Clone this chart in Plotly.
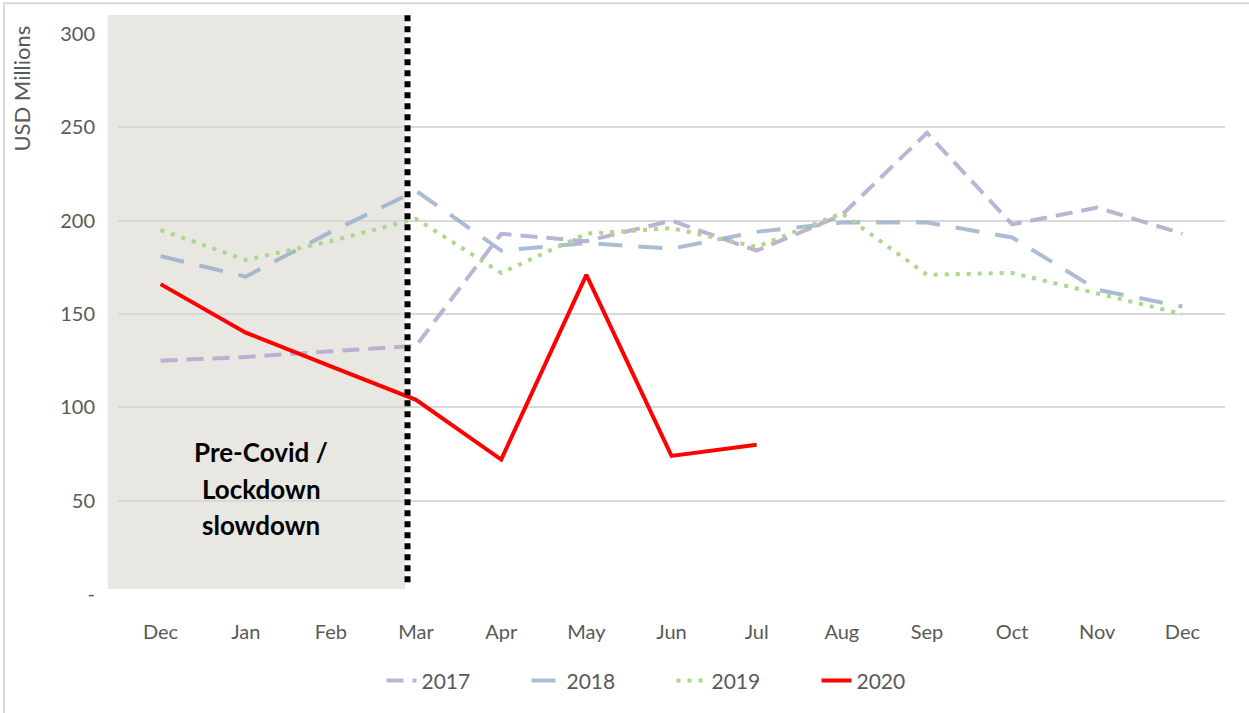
import plotly.graph_objects as go

months = ["Dec", "Jan", "Feb", "Mar", "Apr", "May", "Jun", "Jul", "Aug", "Sep", "Oct", "Nov", "Dec"]
s2017 = [125, 127, 130, 133, 193, 189, 200, 184, 203, 247, 198, 207, 193]
s2018 = [181, 170, 194, 216, 184, 188, 185, 194, 199, 199, 191, 163, 154]
s2019 = [195, 179, 189, 201, 172, 193, 196, 186, 204, 171, 172, 161, 150]
s2020 = [166, 140, 122, 104, 72, 171, 74, 80]
ytickvals = [0, 50, 100, 150, 200, 250, 300]
yticktext = ["-", "50", "100", "150", "200", "250", "300"]

x_idx = list(range(len(months)))
FONT = "Lato"
GRAY = "#595959"

fig = go.Figure()
fig.add_trace(go.Scatter(x=x_idx, y=s2017, name="2017", mode="lines",
                         line=dict(color="rgba(180,165,205,0.85)", width=4, dash="17px,9px")))
fig.add_trace(go.Scatter(x=x_idx, y=s2018, name="2018", mode="lines",
                         line=dict(color="rgba(150,172,200,0.8)", width=4, dash="24px,16px")))
fig.add_trace(go.Scatter(x=x_idx, y=s2019, name="2019", mode="lines",
                         line=dict(color="#A9D98A", width=4, dash="4px,7px")))
fig.add_trace(go.Scatter(x=x_idx[:len(s2020)], y=s2020, name="2020", mode="lines",
                         line=dict(color="#FF0000", width=4)))

n = len(months)
def px_(v):
    return (v + 0.5) / n

cut = 2.9
shapes = [
    # outer frame
    dict(type="rect", xref="paper", yref="paper", x0=-0.1030, x1=1.2, y0=-0.5, y1=1.0551,
         line=dict(color="#D9D9D9", width=2), fillcolor="rgba(0,0,0,0)", layer="below"),
    # shaded region
    dict(type="rect", xref="paper", yref="paper", x0=px_(-0.62), x1=px_(cut - 0.03), y0=0.009, y1=1.034,
         line=dict(width=0), fillcolor="#E8E7E2", layer="below"),
    # dotted divider
    dict(type="line", xref="paper", yref="paper", x0=px_(cut), x1=px_(cut), y0=0.021, y1=1.034,
         line=dict(color="black", width=6, dash="6px,5px"), layer="above"),
]

annotations = [
    dict(x=-0.087, y=1.018, xref="paper", yref="paper", text="USD Millions", textangle=-90,
         showarrow=False, xanchor="center", yanchor="top", font=dict(family=FONT, size=22, color=GRAY)),
]
for txt, yv in [("Pre-Covid /", 76), ("Lockdown", 56.5), ("slowdown", 37)]:
    annotations.append(dict(x=1.18, y=yv, xref="x", yref="y", text="<b>" + txt + "</b>",
                            showarrow=False, font=dict(family=FONT, size=26, color="black")))

fig.update_layout(
    width=1249, height=713,
    margin=dict(l=118, r=24, t=34, b=116),
    paper_bgcolor="white", plot_bgcolor="rgba(0,0,0,0)",
    font=dict(family=FONT, size=20, color=GRAY),
    shapes=shapes, annotations=annotations,
    showlegend=True,
    legend=dict(orientation="h", x=0.50, xanchor="center", y=-0.155, yanchor="middle",
                font=dict(family=FONT, size=21, color=GRAY), entrywidth=100, bgcolor="rgba(0,0,0,0)"),
    xaxis=dict(range=[-0.5, n - 0.5], tickvals=x_idx, ticktext=months, showgrid=False,
               zeroline=False, showline=False, ticks="", ticklabelstandoff=24,
               tickfont=dict(family=FONT, size=20, color=GRAY)),
    yaxis=dict(range=[0, 300], tickvals=ytickvals, ticktext=yticktext, showgrid=True,
               gridcolor="#D9D9D9", gridwidth=2, zeroline=False, showline=False, ticks="",
               ticklabelstandoff=22, tickfont=dict(family=FONT, size=20, color=GRAY)),
)

fig.write_html("out.html")
